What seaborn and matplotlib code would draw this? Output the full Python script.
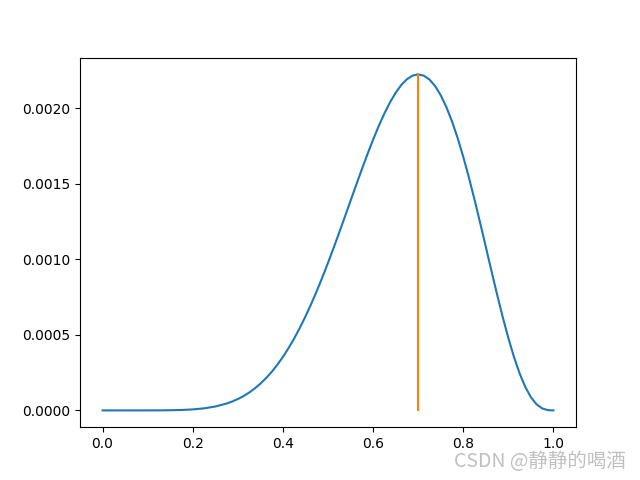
import numpy as np
import seaborn as sb
import matplotlib
matplotlib.use('Agg')
import matplotlib.pyplot as plt

# likelihood curve
p_vals = [0.000, 0.025, 0.050, 0.075, 0.100, 0.125, 0.150, 0.175, 0.200,
          0.225, 0.250, 0.275, 0.2875, 0.300, 0.3125, 0.325, 0.3375, 0.350,
          0.3625, 0.375, 0.3875, 0.400, 0.4125, 0.425, 0.4375, 0.450, 0.4625,
          0.475, 0.4875, 0.500, 0.5125, 0.525, 0.5375, 0.550, 0.5625, 0.575,
          0.5875, 0.600, 0.6125, 0.625, 0.6375, 0.650, 0.6625, 0.675, 0.6875,
          0.700, 0.7125, 0.725, 0.7375, 0.750, 0.7625, 0.775, 0.7875, 0.800,
          0.8125, 0.825, 0.8375, 0.850, 0.8625, 0.875, 0.8875, 0.900, 0.9125,
          0.925, 0.9375, 0.950, 0.9625, 0.975, 0.9875, 1.000]
likelihood = [0.0, 0.0, 0.0, 0.00000001, 0.00000007, 0.00000032, 0.00000105,
              0.00000282, 0.00000655, 0.00001359, 0.00002575, 0.00004533,
              0.00005873, 0.0000750, 0.00009457, 0.0001178, 0.0001450,
              0.0001767, 0.0002131, 0.0002546, 0.0003015, 0.0003539,
              0.0004121, 0.0004761, 0.0005460, 0.0006217, 0.0007029,
              0.0007895, 0.0008808, 0.0009766, 0.0010759, 0.0011781,
              0.0012823, 0.0013873, 0.0014921, 0.0015953, 0.0016955,
              0.0017916, 0.0018818, 0.0019645, 0.0020384, 0.0021018,
              0.0021535, 0.0021917, 0.0022155, 0.0022236, 0.0022152,
              0.0021897, 0.0021466, 0.0020856, 0.0020076, 0.0019127,
              0.0018023, 0.0016777, 0.0015409, 0.0013941, 0.0012401,
              0.0010820, 0.0009231, 0.0007670, 0.0006175, 0.0004783,
              0.0003529, 0.0002444, 0.0001554, 0.0000873, 0.0000404,
              0.0000131, 0.0000018, 0.0]

# maximum likelihood marker
p_hat = [0.7, 0.7]
p_hat_y = [0.0, 0.0022236]

fig, ax = plt.subplots(figsize=(6.4, 4.8), dpi=100)
sb.lineplot(x=p_vals, y=likelihood, ax=ax, color='C0',
            estimator=None, sort=False)
sb.lineplot(x=p_hat, y=p_hat_y, ax=ax, color='C1',
            estimator=None, sort=False)

fig.text(0.978, 0.016, 'CSDN @静静的喝酒', ha='right', va='bottom',
         fontsize=14, color='#b0b0b0', alpha=0.8,
         family=['Noto Sans CJK SC', 'DejaVu Sans'])

plt.savefig('out.png', dpi=100)
